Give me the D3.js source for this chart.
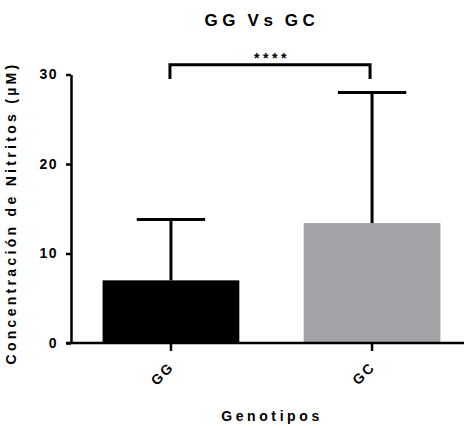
<!DOCTYPE html>
<html>
<head>
<meta charset="utf-8">
<script src="https://cdn.jsdelivr.net/npm/d3@7"></script>
<style>
  body { margin: 0; background: #fff; }
  text { font-family: "Liberation Sans", Arial, sans-serif; font-weight: bold; fill: #000; }
</style>
</head>
<body>
<div id="chart"></div>
<script>
var width = 464;
var height = 428;

// data
var categories = ["GG", "GC"];
var means = [7.0, 13.4];
var errTop = [13.8, 28.0];
var barColors = ["#000000", "#a3a2a7"];
var yTicks = [0, 10, 20, 30];
var sigLabel = "****";

var svg = d3.select("#chart").append("svg")
  .attr("width", width)
  .attr("height", height);

/* Scales */
var x = d3.scaleBand()
  .domain(categories)
  .range([71, 472])
  .paddingInner(0.32)
  .paddingOuter(0.157);

var y = d3.scaleLinear()
  .domain([0, 30])
  .range([343, 74.5]);

/* Bars */
svg.selectAll(".bar")
  .data(categories)
  .enter().append("rect")
  .attr("class", "bar")
  .attr("x", d => x(d))
  .attr("y", (d, i) => y(means[i]))
  .attr("width", x.bandwidth())
  .attr("height", (d, i) => y(0) - y(means[i]))
  .attr("fill", (d, i) => barColors[i]);

/* Error bars (upper only) */
var capHalf = x.bandwidth() / 4;
var err = svg.append("g").attr("stroke", "#000").attr("stroke-width", 3);
categories.forEach(function(d, i) {
  var cx = x(d) + x.bandwidth() / 2;
  err.append("line")
    .attr("x1", cx).attr("x2", cx)
    .attr("y1", y(means[i])).attr("y2", y(errTop[i]));
  err.append("line")
    .attr("x1", cx - capHalf).attr("x2", cx + capHalf)
    .attr("y1", y(errTop[i])).attr("y2", y(errTop[i]));
});

/* Axes */
var yAxis = d3.axisLeft(y).tickValues(yTicks).tickSize(5).tickSizeOuter(0).tickPadding(8);
var gy = svg.append("g")
  .attr("transform", "translate(71,0)")
  .call(yAxis);
gy.select(".domain").attr("stroke-width", 2.5);
gy.selectAll(".tick line").attr("stroke-width", 2.5);
gy.selectAll(".tick text")
  .style("font-size", "14px")
  .style("letter-spacing", "1.5px");

var xAxis = d3.axisBottom(x).tickSize(8).tickSizeOuter(0);
var gx = svg.append("g")
  .attr("transform", "translate(0,343)")
  .call(xAxis);
gx.select(".domain").attr("d", "M66,0H464").attr("stroke-width", 2.5);
gx.selectAll(".tick line").attr("stroke-width", 2.5);
gx.selectAll(".tick text")
  .style("font-size", "14px")
  .style("letter-spacing", "2px")
  .attr("text-anchor", "end")
  .attr("dy", null)
  .attr("y", 0)
  .attr("transform", "translate(4,25) rotate(-45)");

/* Significance bracket */
var bx1 = x("GG") + x.bandwidth() / 2 - 1;
var bx2 = x("GC") + x.bandwidth() / 2 - 2;
svg.append("path")
  .attr("d", `M${bx1},${y(29.5)}V${y(31.1)}H${bx2}V${y(29.5)}`)
  .attr("fill", "none")
  .attr("stroke", "#000")
  .attr("stroke-width", 3);
svg.append("text")
  .attr("x", (bx1 + bx2) / 2 + 2)
  .attr("y", 63)
  .attr("text-anchor", "middle")
  .style("font-size", "14px")
  .style("letter-spacing", "3.5px")
  .text(sigLabel);

/* Titles */
svg.append("text")
  .attr("x", 262)
  .attr("y", 26)
  .attr("text-anchor", "middle")
  .style("font-size", "17px")
  .style("letter-spacing", "4.6px")
  .style("word-spacing", "-2px")
  .text("GG Vs GC");

svg.append("text")
  .attr("x", 272)
  .attr("y", 421)
  .attr("text-anchor", "middle")
  .style("font-size", "14px")
  .style("letter-spacing", "3.6px")
  .text("Genotipos");

svg.append("text")
  .attr("transform", "translate(16,213) rotate(-90)")
  .attr("text-anchor", "middle")
  .style("font-size", "14px")
  .style("letter-spacing", "3.3px")
  .text("Concentración de Nitritos (µM)");
</script>
</body>
</html>
